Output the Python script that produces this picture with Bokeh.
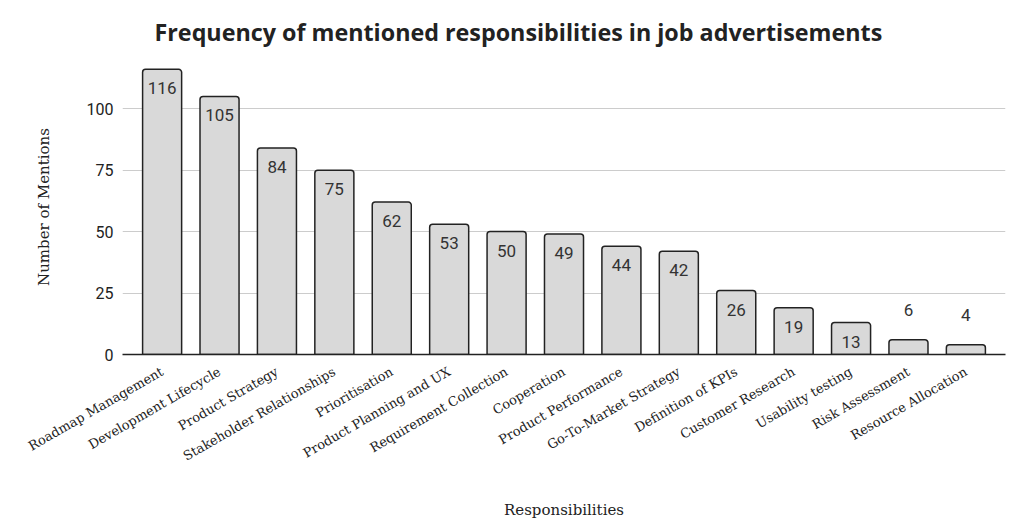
from bokeh.plotting import figure
from bokeh.models import ColumnDataSource, FactorRange, FixedTicker
from bokeh.embed import file_html
from bokeh.resources import INLINE
from bokeh.core.properties import value
import math

categories = ["Roadmap Management", "Development Lifecycle", "Product Strategy",
              "Stakeholder Relationships", "Prioritisation", "Product Planning and UX",
              "Requirement Collection", "Cooperation", "Product Performance",
              "Go-To-Market Strategy", "Definition of KPIs", "Customer Research",
              "Usability testing", "Risk Assessment", "Resource Allocation"]
mentions = [116, 105, 84, 75, 62, 53, 50, 49, 44, 42, 26, 19, 13, 6, 4]
y_ticks = [0, 25, 50, 75, 100]

title_text = "Frequency of mentioned responsibilities in job advertisements"
x_title = "Responsibilities"
y_title = "Number of Mentions"

src = ColumnDataSource(dict(cat=categories, val=mentions, lab=[str(v) for v in mentions]))
inside = [i for i, v in enumerate(mentions) if v >= 10]
outside = [i for i, v in enumerate(mentions) if v < 10]
src_in = ColumnDataSource(dict(cat=[categories[i] for i in inside],
                               val=[mentions[i] for i in inside],
                               lab=[str(mentions[i]) for i in inside]))
src_out = ColumnDataSource(dict(cat=[categories[i] for i in outside],
                                val=[mentions[i] for i in outside],
                                lab=[str(mentions[i]) for i in outside]))

p = figure(width=1006, height=522, output_backend="svg", toolbar_location=None,
           x_range=FactorRange(factors=categories, range_padding=0.19,
                               range_padding_units="absolute"),
           y_range=(0, 120), min_border_left=122, min_border_right=1,
           min_border_top=59, min_border_bottom=168)
p.outline_line_color = None
p.background_fill_color = "white"

p.title.text = title_text
p.title.align = "left"
p.title.offset = 32
p.title.standoff = 19
p.title.vertical_align = "top"
p.title.text_line_height = 0.6
p.title.text_font = "Open Sans"
p.title.text_font_size = "23.3px"
p.title.text_font_style = "bold"
p.title.text_color = "#222222"

p.vbar(x="cat", top="val", width=0.68, bottom=0, source=src,
       fill_color="#d9d9d9", line_color="#222222", line_width=1.5,
       border_radius=(3, 3, 0, 0))

p.text(x="cat", y="val", text="lab", source=src_in, text_align="center",
       text_baseline="top", y_offset=13, text_font=value("Roboto"),
       text_font_size="17px", text_color="#333333")
p.text(x="cat", y="val", text="lab", source=src_out, text_align="center",
       text_baseline="alphabetic", y_offset=-30, text_font=value("Roboto"),
       text_font_size="17px", text_color="#333333")

p.xgrid.grid_line_color = None
p.ygrid.grid_line_color = "#cccccc"
p.ygrid.grid_line_width = 1
p.yaxis.ticker = FixedTicker(ticks=y_ticks)

p.xaxis.axis_label = x_title
p.xaxis.axis_label_text_font = "DejaVu Serif"
p.xaxis.axis_label_text_font_size = "15px"
p.xaxis.axis_label_text_font_style = "normal"
p.xaxis.axis_label_text_color = "#222222"
p.xaxis.axis_label_standoff = 28
p.xaxis.major_label_orientation = math.pi / 6
p.xaxis.major_label_text_font = "DejaVu Serif"
p.xaxis.major_label_text_font_size = "13px"
p.xaxis.major_label_text_color = "#222222"
p.xaxis.major_label_standoff = 10
p.xaxis.major_tick_line_color = None
p.xaxis.minor_tick_line_color = None
p.xaxis.axis_line_color = "#222222"
p.xaxis.axis_line_width = 1.5

p.yaxis.axis_label = y_title
p.yaxis.axis_label_text_font = "DejaVu Serif"
p.yaxis.axis_label_text_font_size = "15px"
p.yaxis.axis_label_text_font_style = "normal"
p.yaxis.axis_label_text_color = "#222222"
p.yaxis.axis_label_standoff = 31
p.yaxis.major_label_text_font = "Roboto"
p.yaxis.major_label_text_font_size = "16px"
p.yaxis.major_label_text_color = "#222222"
p.yaxis.major_label_standoff = 3
p.yaxis.major_tick_line_color = None
p.yaxis.minor_tick_line_color = None
p.yaxis.axis_line_color = None

open("out.html", "w").write(file_html(p, INLINE))
